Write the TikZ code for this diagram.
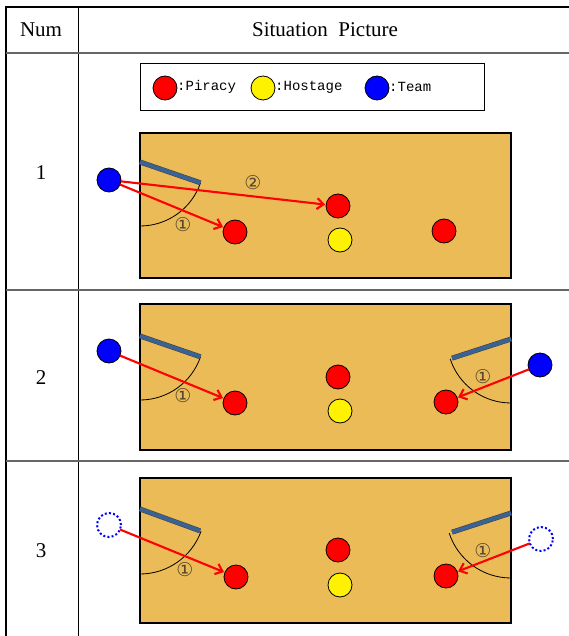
\documentclass[tikz,border=0pt]{standalone}
\usepackage{fontspec}
\setmainfont{Liberation Serif}
\newfontfamily\legendfont{Liberation Mono}
\newfontfamily\markfont{DejaVu Sans}
\usetikzlibrary{arrows.meta}
\definecolor{deck}{RGB}{235,187,87}
\definecolor{hatch}{RGB}{58,98,146}
\definecolor{markbrown}{RGB}{85,70,45}

\tikzstyle{court}=[draw, line width=2pt, fill=deck]
\tikzstyle{pirate}=[circle, fill=red, draw, line width=0.8pt,
                    minimum size=24pt, inner sep=0pt, outer sep=0pt]
\tikzstyle{hostage}=[pirate, fill=yellow]
\tikzstyle{team}=[pirate, fill=blue]
\tikzstyle{ghost}=[circle, draw=blue, line width=2pt,
                   dash pattern=on 2pt off 2.2pt,
                   minimum size=24pt, inner sep=0pt, outer sep=0pt]
\tikzstyle{move}=[draw=red, line width=2.1pt, shorten >=1pt,
                  -{Straight Barb[length=6.5pt,width=11pt]}]
\tikzstyle{panel}=[draw=black!75, line width=0.5pt,
                   double=hatch, double distance=4pt]
\tikzstyle{swing}=[draw, line width=0.8pt]
\tikzstyle{marklabel}=[text=markbrown, inner sep=0pt,
                       font=\markfont\fontsize{19}{19}\selectfont]
\tikzstyle{cell}=[font=\fontsize{21}{24}\selectfont]
\tikzstyle{legendtext}=[anchor=west, inner sep=0pt,
                        font=\legendfont\fontsize{14}{14}\selectfont]

\begin{document}
\begin{tikzpicture}[x=1pt, y=-1pt]
  \useasboundingbox (0,0) rectangle (569,636);

  % table frame
  \draw[line width=1.2pt] (6,636) -- (6,7) -- (569,7);
  \draw[line width=0.8pt] (78,7) -- (78,636);
  \foreach \y in {53,290,461}
    \draw[black!60, line width=1.3pt] (6,\y) -- (569,\y);

  \node[cell] (numhead) at (41,30) {Num};
  \node[cell] (pichead) at (325,30) {Situation\ \ Picture};
  \node[cell] (num1) at (41,173) {1};
  \node[cell] (num2) at (41,378) {2};
  \node[cell] (num3) at (41,551) {3};

  % legend
  \draw[line width=0.8pt] (140,63) rectangle (484,110);
  \node (keyP) at (165,88) [pirate] {};
  \node (keyH) at (263,88) [hostage] {};
  \node (keyT) at (377,88) [team] {};
  \node[legendtext] (keyPtext) at (177,87) {:Piracy};
  \node[legendtext] (keyHtext) at (275,87) {:Hostage};
  \node[legendtext] (keyTtext) at (389,87) {:Team};

  % situation 1
  \draw[court] (140,133) rectangle (511,278);
  \coordinate (hinge1) at (140,162);
  \draw[swing] (hinge1) ++(19:64) arc[start angle=19, end angle=90, radius=64];
  \draw[panel] (hinge1) -- ++(19:64);
  \node (team1) at (109,180) [team] {};
  \node (pirA1) at (235,232) [pirate] {};
  \node (pirB1) at (338,206) [pirate] {};
  \node (pirC1) at (444,231) [pirate] {};
  \node (host1) at (340,240) [hostage] {};
  \foreach \u/\v in {team1/pirA1,team1/pirB1}
    \draw[move] (\u) to (\v);
  \node[marklabel] (mA1) at (183,225) {①};
  \node[marklabel] (mB1) at (253,183) {②};

  % situation 2
  \draw[court] (140,304) rectangle (511,450);
  \coordinate (hinge2) at (140,336);
  \coordinate (hinge2r) at (511,339);
  \draw[swing] (hinge2) ++(19:64) arc[start angle=19, end angle=90, radius=64];
  \draw[swing] (hinge2r) ++(162:64) arc[start angle=162, end angle=90, radius=64];
  \draw[panel] (hinge2) -- ++(19:64);
  \draw[panel] (hinge2r) -- ++(162:62);
  \node (team2) at (109,351) [team] {};
  \node (team2r) at (540,365) [team] {};
  \node (pirA2) at (235,403) [pirate] {};
  \node (pirB2) at (338,377) [pirate] {};
  \node (pirC2) at (446,402) [pirate] {};
  \node (host2) at (340,411) [hostage] {};
  \foreach \u/\v in {team2/pirA2,team2r/pirC2}
    \draw[move] (\u) to (\v);
  \node[marklabel] (mA2) at (183,396) {①};
  \node[marklabel] (mC2) at (483,377) {①};

  % situation 3
  \draw[court] (140,478) rectangle (511,623);
  \coordinate (hinge3) at (140,509);
  \coordinate (hinge3r) at (511,513);
  \draw[swing] (hinge3) ++(20:65) arc[start angle=20, end angle=90, radius=65];
  \draw[swing] (hinge3r) ++(162:65) arc[start angle=162, end angle=90, radius=65];
  \draw[panel] (hinge3) -- ++(20:64);
  \draw[panel] (hinge3r) -- ++(162:62);
  \node (team3) at (109,525) [ghost] {};
  \node (team3r) at (541,539) [ghost] {};
  \node (pirA3) at (236,577) [pirate] {};
  \node (pirB3) at (338,550) [pirate] {};
  \node (pirC3) at (446,576) [pirate] {};
  \node (host3) at (340,585) [hostage] {};
  \foreach \u/\v in {team3/pirA3,team3r/pirC3}
    \draw[move] (\u) to (\v);
  \node[marklabel] (mA3) at (185,570) {①};
  \node[marklabel] (mC3) at (483,551) {①};
\end{tikzpicture}
\end{document}
